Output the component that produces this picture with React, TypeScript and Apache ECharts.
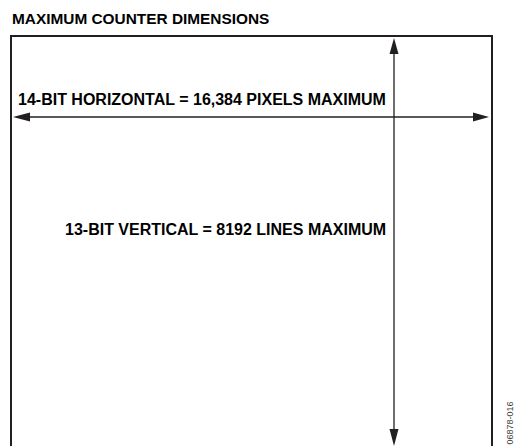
import React, { useEffect, useRef } from "react";
import * as echarts from "echarts";

const TITLE = "MAXIMUM COUNTER DIMENSIONS";
const H_LABEL = "14-BIT HORIZONTAL = 16,384 PIXELS MAXIMUM";
const V_LABEL = "13-BIT VERTICAL = 8192 LINES MAXIMUM";
const FIG_ID = "06878-016";

const INK = "#231f20";

export default function App() {
  const ref = useRef<HTMLDivElement>(null);
  useEffect(() => {
    document.body.style.margin = "0";
    const chart = echarts.init(ref.current!, null, { renderer: "svg" });
    const font = "Liberation Sans, Arial, sans-serif";
    const hy = 117;
    const vx = 394;
    chart.setOption({
      animation: false,
      backgroundColor: "#ffffff",
      graphic: [
        {
          type: "text",
          x: 12,
          y: 18,
          style: { text: TITLE, fontFamily: font, fontWeight: "bold", fontSize: 15.4, fill: "#000", verticalAlign: "middle" },
        },
        // box
        {
          type: "polyline",
          shape: { points: [[11, 460], [11, 36], [492, 36], [492, 460]] },
          style: { stroke: INK, lineWidth: 2, fill: "none" },
        },
        // horizontal arrow
        { type: "line", shape: { x1: 28, y1: hy, x2: 476, y2: hy }, style: { stroke: INK, lineWidth: 1.3 } },
        { type: "polygon", shape: { points: [[13, hy], [30, hy - 4.5], [30, hy + 4.5]] }, style: { fill: INK } },
        { type: "polygon", shape: { points: [[489, hy], [473, hy - 4.5], [473, hy + 4.5]] }, style: { fill: INK } },
        // vertical arrow
        { type: "line", shape: { x1: vx, y1: 52, x2: vx, y2: 432 }, style: { stroke: INK, lineWidth: 1.3 } },
        { type: "polygon", shape: { points: [[vx, 38], [vx - 4.5, 54], [vx + 4.5, 54]] }, style: { fill: INK } },
        { type: "polygon", shape: { points: [[vx, 446], [vx - 4.5, 429], [vx + 4.5, 429]] }, style: { fill: INK } },
        {
          type: "text",
          x: 18,
          y: 99,
          style: { text: H_LABEL, fontFamily: font, fontWeight: "bold", fontSize: 16, fill: "#000", verticalAlign: "middle" },
        },
        {
          type: "text",
          x: 65,
          y: 229,
          style: { text: V_LABEL, fontFamily: font, fontWeight: "bold", fontSize: 16, fill: "#000", verticalAlign: "middle" },
        },
        {
          type: "text",
          x: 510,
          y: 423,
          rotation: Math.PI / 2,
          style: { text: FIG_ID, fontFamily: font, fontSize: 9, fill: "#444", align: "center", verticalAlign: "middle" },
        },
      ],
    });
    return () => chart.dispose();
  }, []);
  return <div ref={ref} style={{ width: 514, height: 446, position: "fixed", left: 0, top: 0 }} />;
}
